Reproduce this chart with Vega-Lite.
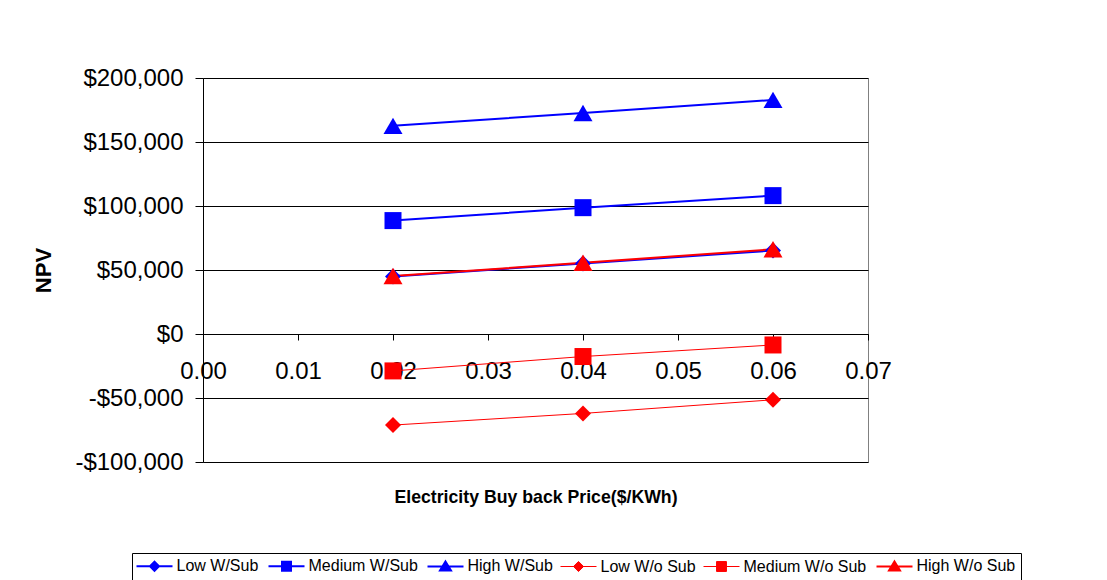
{
  "$schema": "https://vega.github.io/schema/vega-lite/v6.json",
  "width": 665,
  "height": 384,
  "autosize": {"type": "none"},
  "padding": {"left": 203, "top": 78, "right": 239, "bottom": 118},
  "background": "white",
  "config": {
    "view": {"stroke": "#808080", "strokeWidth": 1},
    "font": "Liberation Sans"
  },
  "data": {
    "values": [
      {"series": "Low W/Sub", "price": 0.02, "npv": 45000},
      {"series": "Low W/Sub", "price": 0.04, "npv": 55100},
      {"series": "Low W/Sub", "price": 0.06, "npv": 65200},
      {"series": "Medium W/Sub", "price": 0.02, "npv": 88600},
      {"series": "Medium W/Sub", "price": 0.04, "npv": 98700},
      {"series": "Medium W/Sub", "price": 0.06, "npv": 108100},
      {"series": "High W/Sub", "price": 0.02, "npv": 162600},
      {"series": "High W/Sub", "price": 0.04, "npv": 172700},
      {"series": "High W/Sub", "price": 0.06, "npv": 182900},
      {"series": "Low W/o Sub", "price": 0.02, "npv": -71150},
      {"series": "Low W/o Sub", "price": 0.04, "npv": -62050},
      {"series": "Low W/o Sub", "price": 0.06, "npv": -51400},
      {"series": "Medium W/o Sub", "price": 0.02, "npv": -28840},
      {"series": "Medium W/o Sub", "price": 0.04, "npv": -17600},
      {"series": "Medium W/o Sub", "price": 0.06, "npv": -8570},
      {"series": "High W/o Sub", "price": 0.02, "npv": 45300},
      {"series": "High W/o Sub", "price": 0.04, "npv": 55600},
      {"series": "High W/o Sub", "price": 0.06, "npv": 66200}
    ]
  },
  "encoding": {
    "x": {
      "field": "price",
      "type": "quantitative",
      "scale": {"domain": [0, 0.07], "nice": false, "zero": false},
      "axis": {
        "values": [0, 0.01, 0.02, 0.03, 0.04, 0.05, 0.06, 0.07],
        "format": ".2f",
        "offset": -128,
        "grid": false,
        "domainColor": "black",
        "domainWidth": 1,
        "tickColor": "black",
        "tickSize": 6,
        "labelFont": "Liberation Sans",
        "labelFontSize": 24,
        "labelColor": "black",
        "labelPadding": 19,
        "labelFlush": false,
        "labelOverlap": false,
        "title": "Electricity Buy back Price($/KWh)",
        "titleFont": "Liberation Sans",
        "titleFontSize": 17.7,
        "titleFontWeight": "bold",
        "titleColor": "black",
        "titleBaseline": "middle",
        "titleY": 163
      }
    },
    "y": {
      "field": "npv",
      "type": "quantitative",
      "scale": {"domain": [-100000, 200000], "nice": false, "zero": false},
      "axis": {
        "values": [-100000, -50000, 0, 50000, 100000, 150000, 200000],
        "labelExpr": "(datum.value < 0 ? '-' : '') + '$' + format(abs(datum.value), ',')",
        "grid": true,
        "gridColor": "black",
        "gridWidth": 1,
        "domainColor": "black",
        "domainWidth": 1,
        "tickColor": "black",
        "tickSize": 8,
        "labelFont": "Liberation Sans",
        "labelFontSize": 24,
        "labelColor": "black",
        "labelPadding": 12,
        "labelFlush": false,
        "labelOverlap": false,
        "title": "NPV",
        "titleFont": "Liberation Sans",
        "titleFontSize": 22,
        "titleFontWeight": "bold",
        "titleColor": "black",
        "titleAngle": 270,
        "titleBaseline": "middle",
        "titleAlign": "center",
        "titleX": -160,
        "titleY": 192
      }
    },
    "color": {
      "field": "series",
      "type": "nominal",
      "scale": {
        "domain": ["Low W/Sub", "Medium W/Sub", "High W/Sub", "Low W/o Sub", "Medium W/o Sub", "High W/o Sub"],
        "range": ["#0000FF", "#0000FF", "#0000FF", "#FF0000", "#FF0000", "#FF0000"]
      },
      "legend": {
        "orient": "none",
        "legendX": -71,
        "legendY": 475,
        "direction": "horizontal",
        "columns": 6,
        "title": null,
        "padding": 5,
        "strokeColor": "black",
        "fillColor": "white",
        "columnPadding": 5,
        "symbolSize": 81,
        "symbolOffset": 9.5,
        "labelOffset": 14,
        "labelFont": "Liberation Sans",
        "labelFontSize": 16,
        "labelColor": "black",
        "labelLimit": 300,
        "encode": {
          "symbols": {
            "update": {
              "shape": {"signal": "datum.value == 'Low W/o Sub' ? 'M-4,0H4M0,-1.12L1.12,0L0,1.12L-1.12,0Z' : (datum.value == 'Medium W/o Sub' ? 'M-4,0H4M-1.1,-1.1H1.1V1.1H-1.1Z' : (indexof(datum.value, 'Low') == 0 ? 'M-4,0H4M0,-1L1,0L0,1L-1,0Z' : (indexof(datum.value, 'Medium') == 0 ? 'M-4,0H4M-1,-1H1V1H-1Z' : 'M-4,0H4M0,-1.1L1.22,0.9H-1.22Z')))"},
              "size": {"value": 81},
              "fill": {"signal": "indexof(datum.value, 'W/Sub') >= 0 ? '#0000FF' : '#FF0000'"},
              "stroke": {"signal": "indexof(datum.value, 'W/Sub') >= 0 ? '#0000FF' : '#FF0000'"},
              "strokeWidth": {"signal": "(datum.value == 'Low W/o Sub' || datum.value == 'Medium W/o Sub') ? 1 : 2"},
              "opacity": {"value": 1},
              "fillOpacity": {"value": 1},
              "strokeOpacity": {"value": 1}
            }
          }
        }
      }
    }
  },
  "layer": [
    {
      "transform": [{"filter": {"field": "series", "oneOf": ["Low W/Sub", "Medium W/Sub", "High W/Sub"]}}],
      "mark": {"type": "line", "strokeWidth": 2},
      "encoding": {"detail": {"field": "series"}}
    },
    {
      "transform": [{"filter": {"field": "series", "oneOf": ["Low W/o Sub", "Medium W/o Sub"]}}],
      "mark": {"type": "line", "strokeWidth": 1},
      "encoding": {"detail": {"field": "series"}}
    },
    {
      "transform": [{"filter": {"field": "series", "oneOf": ["High W/o Sub"]}}],
      "mark": {"type": "line", "strokeWidth": 2},
      "encoding": {"detail": {"field": "series"}}
    },
    {
      "transform": [{"filter": {"field": "series", "oneOf": ["Low W/Sub", "Low W/o Sub"]}}],
      "mark": {"type": "point", "shape": "diamond", "size": 256, "filled": true, "opacity": 1, "strokeWidth": 0},
      "encoding": {}
    },
    {
      "transform": [{"filter": {"field": "series", "oneOf": ["Medium W/Sub", "Medium W/o Sub"]}}],
      "mark": {"type": "point", "shape": "square", "size": 289, "filled": true, "opacity": 1, "strokeWidth": 0},
      "encoding": {}
    },
    {
      "transform": [{"filter": {"field": "series", "oneOf": ["High W/Sub", "High W/o Sub"]}}],
      "mark": {"type": "point", "shape": "triangle-up", "size": 361, "filled": true, "opacity": 1, "strokeWidth": 0},
      "encoding": {}
    }
  ]
}
